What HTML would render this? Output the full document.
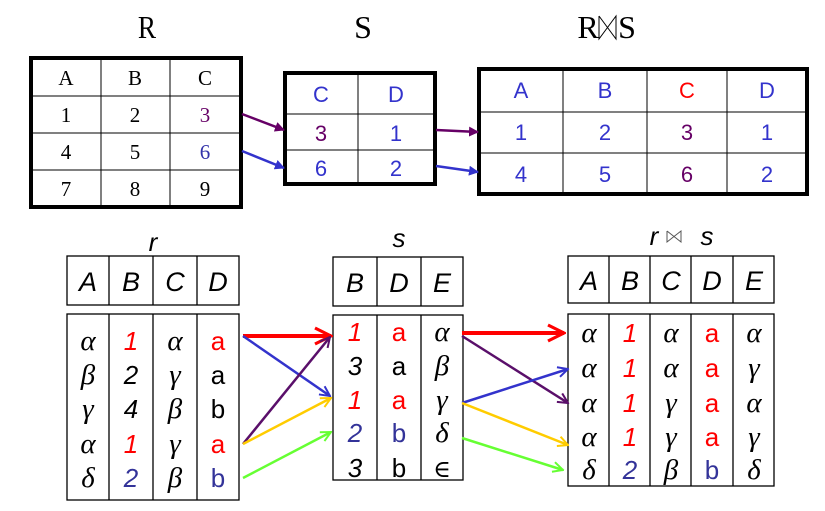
<!DOCTYPE html>
<html><head><meta charset="utf-8"><style>
body{margin:0;background:#fff}
svg{display:block}
.ser{font-family:"Liberation Serif",serif}
.sans{font-family:"Liberation Sans",sans-serif}
.gr{font-family:"Liberation Serif","DejaVu Serif",serif;font-style:italic}
</style></head><body>
<svg width="825" height="511" viewBox="0 0 825 511" xmlns="http://www.w3.org/2000/svg">
<defs>
<marker id="ah" viewBox="0 0 10 10" refX="9" refY="5" markerWidth="5" markerHeight="5" orient="auto" markerUnits="strokeWidth"><path d="M1,1 L9,5 L1,9" fill="none" stroke="context-stroke" stroke-width="1.6"/></marker>
<marker id="at" viewBox="0 0 10 10" refX="9" refY="5" markerWidth="4" markerHeight="4" orient="auto" markerUnits="strokeWidth"><path d="M0,0 L10,5 L0,10 z" fill="context-stroke"/></marker>
</defs>

<!-- TOP: R -->
<g>
<text class="ser" x="147" y="38" font-size="32" text-anchor="middle" transform="translate(147 0) scale(0.85 1) translate(-147 0)">R</text>
<rect x="31" y="58" width="210" height="149" fill="none" stroke="#000" stroke-width="4"/>
<g stroke="#000" stroke-width="1"><line x1="101" y1="58" x2="101" y2="207"/><line x1="170" y1="58" x2="170" y2="207"/>
<line x1="31" y1="96" x2="241" y2="96"/><line x1="31" y1="133" x2="241" y2="133"/><line x1="31" y1="170" x2="241" y2="170"/></g>
<g class="ser" font-size="21" text-anchor="middle">
<text x="66" y="85">A</text><text x="135" y="85">B</text><text x="205" y="85">C</text>
<text x="66" y="122">1</text><text x="135" y="122">2</text><text x="205" y="122" fill="#660066">3</text>
<text x="66" y="159">4</text><text x="135" y="159">5</text><text x="205" y="159" fill="#3333aa">6</text>
<text x="66" y="196">7</text><text x="135" y="196">8</text><text x="205" y="196">9</text></g>
</g>

<!-- TOP: S -->
<g>
<text class="ser" x="363" y="38" font-size="32" text-anchor="middle">S</text>
<rect x="285" y="73" width="150" height="111" fill="none" stroke="#000" stroke-width="4"/>
<g stroke="#000" stroke-width="1"><line x1="358" y1="73" x2="358" y2="184"/><line x1="285" y1="114" x2="435" y2="114"/><line x1="285" y1="150" x2="435" y2="150"/></g>
<g class="sans" font-size="22" text-anchor="middle" fill="#3333cc">
<text x="321" y="102">C</text><text x="396" y="102">D</text>
<text x="321" y="141" fill="#660066">3</text><text x="396" y="141">1</text>
<text x="321" y="176">6</text><text x="396" y="176">2</text></g>
</g>

<!-- TOP: R join S -->
<g>
<g>
<text class="ser" x="588" y="38" font-size="32" text-anchor="middle">R</text>
<g stroke="#000" stroke-width="1" fill="none"><path d="M599,16 L599,39 L616,16 L616,39 L599,16"/></g>
<text class="ser" x="627" y="38" font-size="32" text-anchor="middle">S</text>
</g>
<rect x="479" y="69" width="328" height="125" fill="none" stroke="#000" stroke-width="4"/>
<g stroke="#000" stroke-width="1"><line x1="563" y1="69" x2="563" y2="194"/><line x1="647" y1="69" x2="647" y2="194"/><line x1="727" y1="69" x2="727" y2="194"/>
<line x1="479" y1="112" x2="807" y2="112"/><line x1="479" y1="153" x2="807" y2="153"/></g>
<g class="sans" font-size="22" text-anchor="middle" fill="#3333cc">
<text x="521" y="98">A</text><text x="605" y="98">B</text><text x="687" y="98" fill="#ff0000">C</text><text x="767" y="98">D</text>
<text x="521" y="140">1</text><text x="605" y="140">2</text><text x="687" y="140" fill="#660066">3</text><text x="767" y="140">1</text>
<text x="521" y="182">4</text><text x="605" y="182">5</text><text x="687" y="182" fill="#660066">6</text><text x="767" y="182">2</text></g>
</g>

<g stroke-width="2.5" fill="none">
<line x1="242" y1="114" x2="284" y2="130" stroke="#660066" marker-end="url(#at)"/>
<line x1="242" y1="151" x2="284" y2="168" stroke="#3333cc" marker-end="url(#at)"/>
<line x1="436" y1="130" x2="478" y2="132" stroke="#660066" marker-end="url(#at)"/>
<line x1="436" y1="166" x2="478" y2="172" stroke="#3333cc" marker-end="url(#at)"/>
</g>

<!-- BOTTOM: r -->
<g>
<text class="sans" x="153" y="251" font-size="26" font-style="italic" text-anchor="middle">r</text>
<g fill="none" stroke="#000" stroke-width="1.3"><rect x="67" y="256" width="172" height="49"/><rect x="67" y="314" width="172" height="186"/></g>
<g stroke="#000" stroke-width="1.3"><line x1="109" y1="256" x2="109" y2="305"/><line x1="153" y1="256" x2="153" y2="305"/><line x1="197" y1="256" x2="197" y2="305"/>
<line x1="109" y1="314" x2="109" y2="500"/><line x1="153" y1="314" x2="153" y2="500"/><line x1="197" y1="314" x2="197" y2="500"/></g>
<g class="sans" font-size="27" font-style="italic" text-anchor="middle"><text x="88" y="291">A</text><text x="131" y="291">B</text><text x="175" y="291">C</text><text x="218" y="291">D</text></g>
<g class="gr" font-size="29" text-anchor="middle"><text x="88" y="350">α</text><text x="88" y="384">β</text><text x="88" y="418">γ</text><text x="88" y="453">α</text><text x="88" y="487">δ</text>
<text x="175" y="350">α</text><text x="175" y="384">γ</text><text x="175" y="418">β</text><text x="175" y="453">γ</text><text x="175" y="487">β</text></g>
<g class="sans" font-size="26" font-style="italic" text-anchor="middle"><text x="131" y="350" fill="#ff0000">1</text><text x="131" y="384">2</text><text x="131" y="418">4</text><text x="131" y="453" fill="#ff0000">1</text><text x="131" y="487" fill="#333399">2</text></g>
<g class="sans" font-size="26" text-anchor="middle"><text x="218" y="350" fill="#ff0000">a</text><text x="218" y="384">a</text><text x="218" y="418">b</text><text x="218" y="453" fill="#ff0000">a</text><text x="218" y="487" fill="#333399">b</text></g>
</g>

<!-- BOTTOM: s -->
<g>
<text class="sans" x="399" y="247" font-size="26" font-style="italic" text-anchor="middle">s</text>
<g fill="none" stroke="#000" stroke-width="1.3"><rect x="333" y="257" width="130" height="49"/><rect x="333" y="315" width="130" height="165"/></g>
<g stroke="#000" stroke-width="1.3"><line x1="377" y1="257" x2="377" y2="306"/><line x1="421" y1="257" x2="421" y2="306"/>
<line x1="377" y1="315" x2="377" y2="480"/><line x1="421" y1="315" x2="421" y2="480"/></g>
<g class="sans" font-size="27" font-style="italic" text-anchor="middle"><text x="355" y="292">B</text><text x="399" y="292">D</text><text x="442" y="292">E</text></g>
<g class="sans" font-size="26" font-style="italic" text-anchor="middle"><text x="355" y="341" fill="#ff0000">1</text><text x="355" y="375">3</text><text x="355" y="409" fill="#ff0000">1</text><text x="355" y="442" fill="#333399">2</text><text x="355" y="477">3</text></g>
<g class="sans" font-size="26" text-anchor="middle"><text x="399" y="341" fill="#ff0000">a</text><text x="399" y="375">a</text><text x="399" y="409" fill="#ff0000">a</text><text x="399" y="442" fill="#333399">b</text><text x="399" y="477">b</text></g>
<g class="gr" font-size="29" text-anchor="middle"><text x="442" y="341">α</text><text x="442" y="375">β</text><text x="442" y="409">γ</text><text x="442" y="442">δ</text><text x="442" y="477" font-size="24">∈</text></g>
</g>

<!-- BOTTOM: r join s -->
<g>
<text class="sans" x="654" y="245" font-size="26" font-style="italic" text-anchor="middle">r</text>
<g stroke="#555" stroke-width="1" fill="none"><path d="M667,231 L667,242 L681,231 L681,242 L667,231"/></g>
<text class="sans" x="707" y="245" font-size="26" font-style="italic" text-anchor="middle">s</text>
<g fill="none" stroke="#000" stroke-width="1.3"><rect x="568" y="256" width="206" height="47"/><rect x="568" y="314" width="206" height="172"/></g>
<g stroke="#000" stroke-width="1.3"><line x1="609" y1="256" x2="609" y2="303"/><line x1="650" y1="256" x2="650" y2="303"/><line x1="691" y1="256" x2="691" y2="303"/><line x1="733" y1="256" x2="733" y2="303"/>
<line x1="609" y1="314" x2="609" y2="486"/><line x1="650" y1="314" x2="650" y2="486"/><line x1="691" y1="314" x2="691" y2="486"/><line x1="733" y1="314" x2="733" y2="486"/></g>
<g class="sans" font-size="27" font-style="italic" text-anchor="middle"><text x="589" y="290">A</text><text x="630" y="290">B</text><text x="671" y="290">C</text><text x="712" y="290">D</text><text x="754" y="290">E</text></g>
<g class="gr" font-size="29" text-anchor="middle">
<text x="589" y="342">α</text><text x="589" y="377">α</text><text x="589" y="412">α</text><text x="589" y="446">α</text><text x="589" y="479">δ</text>
<text x="671" y="342">α</text><text x="671" y="377">α</text><text x="671" y="412">γ</text><text x="671" y="446">γ</text><text x="671" y="479">β</text>
<text x="754" y="342">α</text><text x="754" y="377">γ</text><text x="754" y="412">α</text><text x="754" y="446">γ</text><text x="754" y="479">δ</text></g>
<g class="sans" font-size="26" font-style="italic" text-anchor="middle"><text x="630" y="342" fill="#ff0000">1</text><text x="630" y="377" fill="#ff0000">1</text><text x="630" y="412" fill="#ff0000">1</text><text x="630" y="446" fill="#ff0000">1</text><text x="630" y="479" fill="#333399">2</text></g>
<g class="sans" font-size="26" text-anchor="middle"><text x="712" y="342" fill="#ff0000">a</text><text x="712" y="377" fill="#ff0000">a</text><text x="712" y="412" fill="#ff0000">a</text><text x="712" y="446" fill="#ff0000">a</text><text x="712" y="479" fill="#333399">b</text></g>
</g>

<g fill="none" stroke-width="2.5">
<line x1="243" y1="336" x2="331" y2="336" stroke="#ff0000" stroke-width="4" marker-end="url(#ah)"/>
<line x1="243" y1="336" x2="330" y2="396" stroke="#3333cc" marker-end="url(#ah)"/>
<line x1="243" y1="444" x2="330" y2="337" stroke="#5a0f6a" marker-end="url(#ah)"/>
<line x1="243" y1="444" x2="331" y2="398" stroke="#ffcc00" marker-end="url(#ah)"/>
<line x1="243" y1="478" x2="331" y2="432" stroke="#66ff33" marker-end="url(#ah)"/>
<line x1="462" y1="333" x2="564" y2="333" stroke="#ff0000" stroke-width="4" marker-end="url(#ah)"/>
<line x1="462" y1="336" x2="568" y2="403" stroke="#5a0f6a" marker-end="url(#ah)"/>
<line x1="462" y1="403" x2="568" y2="369" stroke="#3333cc" marker-end="url(#ah)"/>
<line x1="462" y1="403" x2="568" y2="445" stroke="#ffcc00" marker-end="url(#ah)"/>
<line x1="462" y1="438" x2="563" y2="470" stroke="#66ff33" marker-end="url(#ah)"/>
</g>
</svg>
</body></html>
